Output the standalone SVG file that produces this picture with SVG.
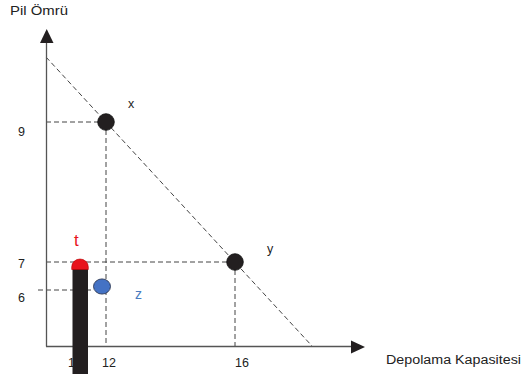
<svg xmlns="http://www.w3.org/2000/svg" width="526" height="374" viewBox="0 0 526 374">
<style>
.lbl{font-family:"Liberation Sans","Noto Sans",sans-serif;font-size:12.5px;fill:#222}
.ax{stroke:#555;stroke-width:1.3;fill:none}
.dash{stroke:#444;stroke-width:1;stroke-dasharray:5,3;fill:none}
.dot{fill:#231f20;stroke:#111;stroke-width:0.8}
</style>
<rect width="526" height="374" fill="#fff"/>
<g id="connectors">
<line class="dash" x1="46" y1="57" x2="312" y2="346"/>
<line class="dash" x1="46" y1="122" x2="106" y2="122"/>
<line class="dash" x1="106" y1="122" x2="106" y2="346"/>
<line class="dash" x1="46" y1="262" x2="235" y2="262"/>
<line class="dash" x1="235" y1="262" x2="235" y2="346"/>
<line class="dash" x1="38" y1="290" x2="94" y2="290"/>
<line class="ax" x1="46.5" y1="346.5" x2="46.5" y2="42"/>
<polygon points="40,43 53.5,43 46.7,29" fill="#231f20"/>
<line class="ax" x1="46" y1="346.5" x2="352" y2="346.5"/>
<polygon points="351,340.5 351,353.5 365,347" fill="#231f20"/>
</g>
<g id="axis-labels">
<text class="lbl" x="10" y="15" font-size="13.5" textLength="58" lengthAdjust="spacingAndGlyphs">Pil Ömrü</text>
<text class="lbl" x="386" y="364" font-size="13.5" textLength="135" lengthAdjust="spacingAndGlyphs">Depolama Kapasitesi</text>
<text class="lbl" x="18" y="136" font-size="13.5">9</text>
<text class="lbl" x="18" y="268" font-size="13.5">7</text>
<text class="lbl" x="18" y="302" font-size="13.5">6</text>
<text class="lbl" x="68" y="367">10</text>
<text class="lbl" x="102" y="367">12</text>
<text class="lbl" x="235" y="367">16</text>
</g>
<g id="node-x">
<circle class="dot" cx="106" cy="122" r="8.3"/>
<text class="lbl" x="128" y="108" font-size="14">x</text>
</g>
<g id="node-y">
<circle class="dot" cx="235" cy="262" r="8.3"/>
<text class="lbl" x="267" y="253" font-size="14">y</text>
</g>
<g id="node-t">
<rect x="72.5" y="265" width="15.5" height="109" fill="#231f20"/>
<path d="M71.7,269.5 L88.3,269.5 L88.3,267 A8.3,8 0 0 0 71.7,267 Z" fill="#e8141c" stroke="#b00" stroke-width="0.6"/>
<text x="74" y="246" font-family="Liberation Sans, Noto Sans, sans-serif" font-size="17" fill="#e8141c">t</text>
</g>
<g id="node-z">
<ellipse cx="102" cy="286.5" rx="8.5" ry="7.6" fill="#4472c4" stroke="#1f2a44" stroke-width="0.8"/>
<text x="135" y="299" font-family="Liberation Sans, Noto Sans, sans-serif" font-size="14" fill="#4a7cc0">z</text>
</g>
</svg>
